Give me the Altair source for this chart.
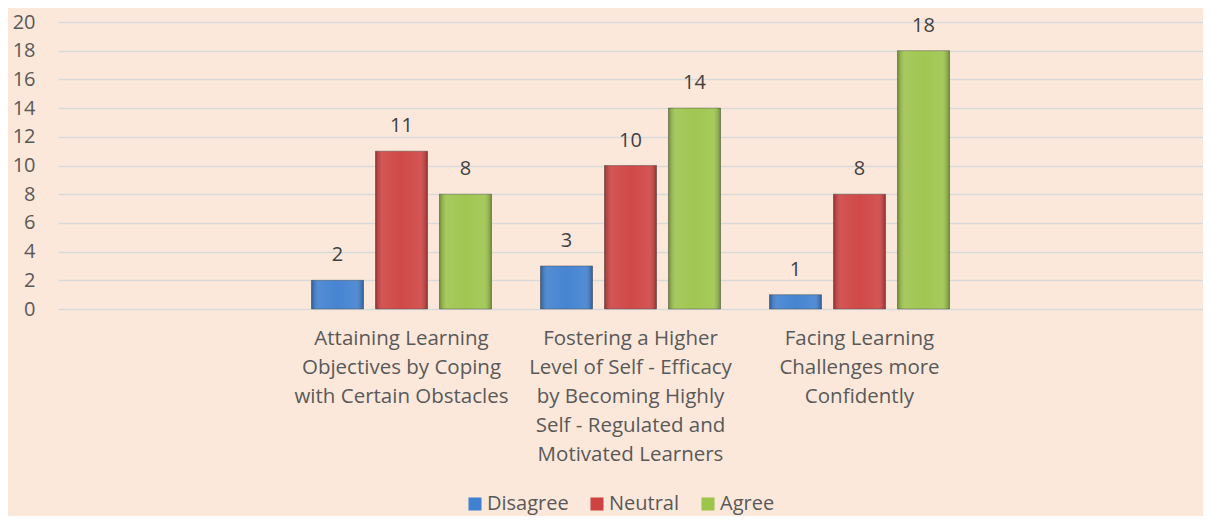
import altair as alt
import pandas as pd

categories = [
    "Attaining Learning|Objectives by Coping|with Certain Obstacles",
    "Fostering a Higher|Level of Self - Efficacy|by Becoming Highly|Self - Regulated and|Motivated Learners",
    "Facing Learning|Challenges more|Confidently",
]
series = ["Disagree", "Neutral", "Agree"]
disagree = [2, 3, 1]
neutral = [11, 10, 8]
agree = [8, 14, 18]
colors = ["#3F80D0", "#CE4241", "#9DC44B"]
y_ticks = list(range(0, 21, 2))

rows = []
for i, c in enumerate(categories):
    for s, vals in zip(series, [disagree, neutral, agree]):
        rows.append({"cat": c, "series": s, "value": vals[i]})
df = pd.DataFrame(rows)

domain = [" "] + categories + ["  "]
FONT = "Open Sans"
TXT = "#595959"
FS = 20

x = alt.X("cat:N", scale=alt.Scale(domain=domain, paddingInner=0.214, paddingOuter=0.107),
          axis=alt.Axis(title=None, labelAngle=0, domain=False, ticks=False,
                        labelExpr="split(datum.label, '|')", labelFontSize=20.5,
                        labelColor=TXT, labelFont=FONT, labelPadding=29,
                        labelLineHeight=29, labelBaseline="middle", labelLimit=400))
xo = alt.XOffset("series:N", sort=series, scale=alt.Scale(paddingInner=0.1875, paddingOuter=0))
y = alt.Y("value:Q", scale=alt.Scale(domain=[0, 20]),
          axis=alt.Axis(title=None, values=y_ticks, domain=False, ticks=False,
                        labelOverlap=False, labelFontSize=FS, labelColor=TXT,
                        labelFont=FONT, labelPadding=23, gridColor="#D9D9D9",
                        gridWidth=1.5))
color = alt.Color("series:N", sort=series, scale=alt.Scale(domain=series, range=colors),
                  legend=alt.Legend(title=None, orient="none", legendX=407, legendY=472,
                                    direction="horizontal", symbolType="square",
                                    symbolSize=170, symbolStrokeWidth=0, labelFontSize=FS,
                                    labelFont=FONT, labelColor=TXT,
                                    columnPadding=18, labelOffset=2))

bars = alt.Chart(df).mark_bar(stroke="#333333", strokeOpacity=0.4, strokeWidth=1).encode(
    x=x, xOffset=xo, y=y, color=color)

shade = alt.Gradient(
    gradient="linear", x1=0, x2=1, y1=0, y2=0,
    stops=[
        alt.GradientStop(offset=0, color="rgba(0,0,0,0.28)"),
        alt.GradientStop(offset=0.14, color="rgba(255,255,255,0.10)"),
        alt.GradientStop(offset=0.5, color="rgba(255,255,255,0.04)"),
        alt.GradientStop(offset=0.86, color="rgba(255,255,255,0.10)"),
        alt.GradientStop(offset=1, color="rgba(0,0,0,0.28)"),
    ],
)
overlay = alt.Chart(df).mark_bar(color=shade).encode(x=x, xOffset=xo, y=y)

text = alt.Chart(df).mark_text(baseline="middle", dy=-25, fontSize=FS, font=FONT,
                               color="#404040").encode(
    x=x, xOffset=xo, y=y, text="value:Q")

chart = alt.layer(bars, overlay, text).properties(
    width=1145, height=287, background="#FCE8DA",
    padding={"left": 4, "top": 4, "right": 0, "bottom": 2},
).configure_view(stroke=None)

chart.save("out.html", embed_options={"renderer": "svg", "actions": False})
